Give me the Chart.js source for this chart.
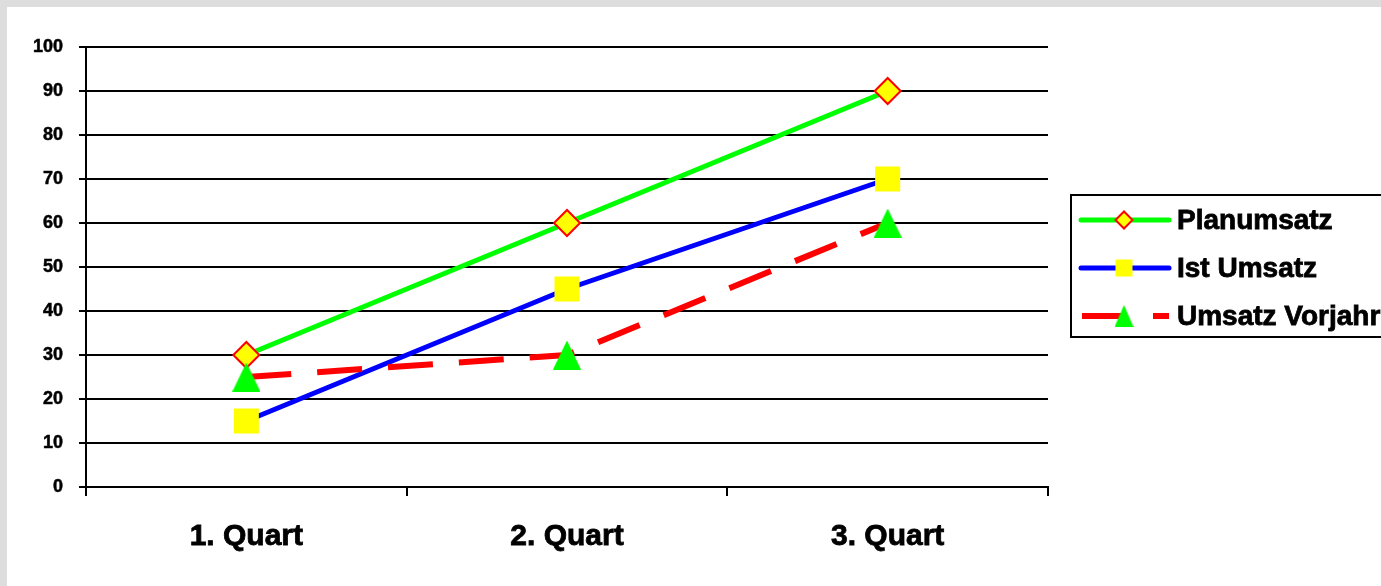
<!DOCTYPE html>
<html>
<head>
<meta charset="utf-8">
<script src="https://cdn.jsdelivr.net/npm/chart.js@4/dist/chart.umd.min.js"></script>
<style>
  html, body { margin: 0; padding: 0; }
  body { width: 1381px; height: 586px; background: #dddddd; position: relative; overflow: hidden; }
  #panel { position: absolute; left: 7px; top: 7px; width: 1374px; height: 579px; background: #ffffff; }
  #chart { display: block; }
</style>
</head>
<body>
<div id="panel"><canvas id="chart" width="1374" height="579"></canvas></div>
<script>
// Quarterly revenue figures
const quarters = ['1. Quart', '2. Quart', '3. Quart'];
const planumsatz = [30, 60, 90];
const istUmsatz = [15, 45, 70];
const umsatzVorjahr = [25, 30, 60];
const yTicks = [0, 10, 20, 30, 40, 50, 60, 70, 80, 90, 100];

const FONT = "'Liberation Sans', Arial, Helvetica, sans-serif";

// Green triangle marker (bounding box centred on the value)
function triangleMarker(w, h) {
  const c = document.createElement('canvas');
  c.width = w; c.height = h;
  const g = c.getContext('2d');
  g.fillStyle = '#00ff00';
  g.beginPath();
  g.moveTo(w / 2, 0);
  g.lineTo(w, h);
  g.lineTo(0, h);
  g.closePath();
  g.fill();
  return c;
}
const triBig = triangleMarker(28, 29);
const triSmall = triangleMarker(19, 22);

// Legend drawn as a framed box with line + marker samples
const boxLegend = {
  id: 'boxLegend',
  afterDraw(chart) {
    const ctx = chart.ctx;
    const bx = 1064, by = 188, bw = 400, bh = 142;
    ctx.save();
    ctx.fillStyle = '#ffffff';
    ctx.fillRect(bx, by, bw, bh);
    ctx.lineWidth = 2;
    ctx.strokeStyle = '#000000';
    ctx.strokeRect(bx, by, bw, bh);

    const rows = [213, 261, 309];
    chart.data.datasets.forEach((ds, i) => {
      const y = rows[i];
      const mx = 1117;
      ctx.save();
      ctx.strokeStyle = ds.borderColor;
      ctx.lineWidth = ds.borderWidth;
      if (ds.borderDash && ds.borderDash.length) {
        ctx.setLineDash(ds.borderDash);
        ctx.lineCap = 'butt';
        ctx.beginPath();
        ctx.moveTo(1075, y);
        ctx.lineTo(1162, y);
        ctx.stroke();
      } else {
        ctx.lineCap = 'round';
        ctx.beginPath();
        ctx.moveTo(1074, y);
        ctx.lineTo(1162, y);
        ctx.stroke();
      }
      ctx.restore();

      if (ds.legendMarker) {
        ctx.drawImage(ds.legendMarker, mx - ds.legendMarker.width / 2, y - ds.legendMarker.height / 2);
      } else {
        ctx.save();
        ctx.fillStyle = ds.pointBackgroundColor;
        ctx.strokeStyle = ds.pointBorderColor;
        ctx.lineWidth = ds.pointBorderWidth;
        Chart.helpers.drawPoint(ctx, {
          pointStyle: ds.pointStyle,
          radius: ds.legendRadius,
          rotation: 0,
          borderWidth: ds.pointBorderWidth
        }, mx, y);
        ctx.restore();
      }

      ctx.fillStyle = '#000000';
      ctx.strokeStyle = '#000000';
      ctx.lineWidth = 0.8;
      ctx.font = 'bold 28px ' + FONT;
      ctx.textBaseline = 'middle';
      ctx.textAlign = 'left';
      ctx.fillText(ds.label, 1170, y + 1);
      ctx.strokeText(ds.label, 1170, y + 1);
    });
    ctx.restore();
  }
};

new Chart(document.getElementById('chart'), {
  type: 'line',
  data: {
    labels: quarters,
    datasets: [
      {
        label: 'Planumsatz',
        data: planumsatz,
        borderColor: '#00ff00',
        borderWidth: 5,
        pointStyle: 'rectRot',
        pointRadius: 13,
        pointBackgroundColor: '#ffff00',
        pointBorderColor: '#ff0000',
        pointBorderWidth: 2,
        legendRadius: 8.5,
        order: 2
      },
      {
        label: 'Ist Umsatz',
        data: istUmsatz,
        borderColor: '#0000ff',
        borderWidth: 5,
        pointStyle: 'rect',
        pointRadius: 17.7,
        pointBackgroundColor: '#ffff00',
        pointBorderColor: '#ffff00',
        pointBorderWidth: 0,
        legendRadius: 12,
        order: 1
      },
      {
        label: 'Umsatz Vorjahr',
        data: umsatzVorjahr,
        borderColor: '#ff0000',
        borderWidth: 6,
        borderDash: [45, 26],
        borderCapStyle: 'butt',
        pointStyle: triBig,
        pointRadius: 14,
        pointBackgroundColor: '#00ff00',
        pointBorderWidth: 0,
        legendMarker: triSmall,
        order: 0
      }
    ]
  },
  options: {
    responsive: false,
    animation: false,
    events: [],
    layout: { padding: { left: 0, top: 40, right: 333, bottom: 0 } },
    plugins: {
      legend: { display: false },
      tooltip: { enabled: false }
    },
    elements: { line: { tension: 0, fill: false } },
    scales: {
      x: {
        offset: true,
        grid: {
          offset: true,
          drawOnChartArea: true,
          color: (c) => (c.index === 0 || c.index === quarters.length) ? '#000000' : 'rgba(0,0,0,0)',
          lineWidth: 2,
          tickColor: '#000000',
          tickLength: 9,
          tickWidth: 2
        },
        border: { display: true, color: '#000000', width: 2 },
        ticks: {
          color: '#000000',
          font: { family: FONT, size: 30, weight: 'bold' },
          textStrokeColor: '#000000',
          textStrokeWidth: 0.8,
          padding: 23,
          maxRotation: 0
        },
        afterFit(scale) { scale.height = 99; }
      },
      y: {
        min: 0,
        max: 100,
        afterBuildTicks(scale) { scale.ticks = yTicks.map(v => ({ value: v })); },
        grid: {
          color: '#000000',
          lineWidth: 2,
          tickColor: '#000000',
          tickLength: 7,
          tickWidth: 2
        },
        border: { display: true, color: '#000000', width: 2 },
        ticks: {
          color: '#000000',
          font: { family: FONT, size: 18, weight: 'bold' },
          textStrokeColor: '#000000',
          textStrokeWidth: 0.5,
          padding: 16
        },
        afterFit(scale) { scale.width = 79; }
      }
    }
  },
  plugins: [boxLegend]
});
</script>
</body>
</html>
